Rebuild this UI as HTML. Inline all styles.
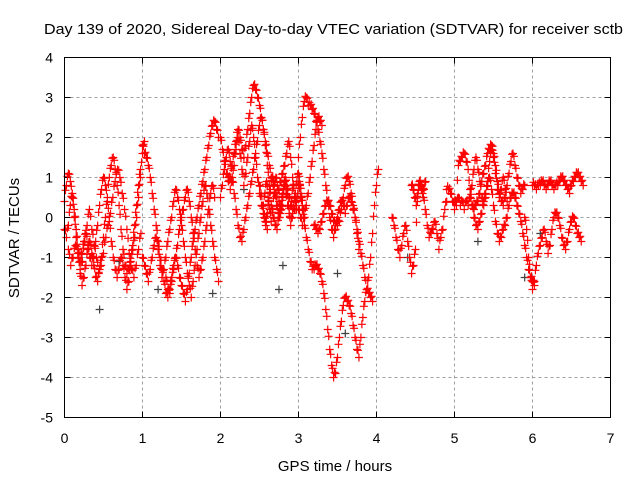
<!DOCTYPE html>
<html><head><meta charset="utf-8"><style>
html,body{margin:0;padding:0;background:#fff}
svg{display:block;font-family:"Liberation Sans",sans-serif}
</style></head><body>
<svg id="chart" width="640" height="480" viewBox="0 0 640 480" xmlns="http://www.w3.org/2000/svg">
<text x="44" y="34" font-size="15" textLength="579" lengthAdjust="spacingAndGlyphs">Day 139 of 2020, Sidereal Day-to-day VTEC variation (SDTVAR) for receiver sctb</text>
<text x="335" y="471" font-size="15" text-anchor="middle">GPS time / hours</text>
<text transform="translate(19,238) rotate(-90)" font-size="15" text-anchor="middle">SDTVAR / TECUs</text>
<g id="grid"></g>
<g id="ticks"></g>
<g id="marks"></g>
<rect x="64.5" y="57.5" width="546" height="360" fill="none" stroke="#000" stroke-width="1"/>
</svg>
<script>
const xTicks = [0,1,2,3,4,5,6,7];
const yTicks = [-5,-4,-3,-2,-1,0,1,2,3,4];
// each track: start hour, step hours, values (TECU)
const trackStarts = [0,0,1.0,1.0,2.0,2.0,2.5,3.0,3.0,3.2,4.2,4.45,4.9,5.2,6.0,5.9,0.05,1.3,2.55,2.1,3.0,5.0];
const trackSteps = [0.025,0.025,0.025,0.025,0.025,0.025,0.02,0.025,0.025,0.025,0.025,0.02,0.025,0.025,0.025,0.025,0.03,0.025,0.02,0.025,0.025,0.025];
const track0 = [0.4,0.8,1.1,0.9,0.5,0,-0.5,-1.0,-1.4,-1.7,-1.5,-1.2,-0.8,-0.6,-0.9,-1.2,-1.5,-1.6,-1.3,-1.0,-0.5,0,0.5,1.0,1.3,1.5,1.2,0.8,0.3,-0.3,-0.8,-1.2,-1.4,-1.3,-1.1,-0.7,-0.2,0.3,0.8,1.2];
const track1 = [-0.3,-0.5,-0.2,0.3,0.6,0.2,-0.3,-0.8,-1.1,-0.9,-0.6,-0.4,-0.7,-1.0,-1.2,-1.0,-0.6,-0.2,0.3,0.7,1.0,0.8,0.4,-0.1,-0.6,-1.0,-1.3,-1.5,-1.3,-1.0,-1.2,-1.5,-1.8,-1.6,-1.2,-0.8,-0.5,0,0.5,1.0,1.6,1.9];
const track2 = [1.8,1.6,1.5,1.3,1.0,0.6,0.2,-0.2,-0.6,-1.0,-1.3,-1.6,-1.9,-2.0,-1.8,-1.5,-1.2,-1.0,-1.2,-1.5,-1.7,-1.9,-2.1,-1.8,-1.4,-1.0,-0.6,-0.3,0,0.3,0.6,0.9,1.2,1.5,1.8,2.1,2.3,2.4,2.2,2.0];
const track3 = [-1.0,-1.2,-1.4,-1.6,-1.3,-1.0,-0.7,-0.5,-0.8,-1.2,-1.5,-1.3,-1.0,-0.6,-0.3,0,0.4,0.7,0.5,0.2,-0.2,-0.6,-1.0,-1.4,-1.7,-2.0,-1.6,-1.2,-0.8,-0.4,0,0.4,0.8,0.6,0.2,-0.2,-0.6,-1.0,-1.3,-1.6];
const track4 = [2.0,1.7,1.4,1.1,0.9,1.0,1.3,1.6,1.9,2.2,2.0,1.7,1.5,1.8,2.2,2.6,3.0,3.3,3.2,3.0,2.8,2.5,2.2,1.9,1.6,1.3,1.0,0.8,0.6,0.5,0.7,0.9,1.1,1.3,1.6,1.9,1.5,1.0,0.5,0.2];
const track5 = [0.5,0.8,1.2,1.5,1.7,1.4,1.0,0.6,0.2,-0.2,-0.5,-0.6,-0.3,0,0.3,0.6,0.9,1.2,1.6,1.9,2.3,2.5,2.2,1.8,1.3,0.8,0.3,0,-0.2,-0.3,0,0.3,0.6,0.9,0.8,0.5,0.3,0.1,0.2,0.4];
const track6 = [0.8,0.6,0.3,0,-0.2,0.1,0.4,0.7,1.0,0.9,0.6,0.3,0.1,0,0.2,0.5,0.8,0.6,0.3,0.1,-0.2,0,0.3,0.6,0.9,1.1,0.8,0.5,0.2,0];
const track7 = [1.5,2.0,2.5,2.9,3.0,2.8,2.8,2.7,2.6,2.4,2.2,1.9,1.6,1.2,0.8,0.4,0,-0.3,-0.5,-0.3,0,0.2,0.4,0.3,0.1,0.3,0.5,0.4,0.2,0,-0.3,-0.6,-0.9,-1.2,-1.5,-1.8,-1.5,-1.0,-0.4,0.3,0.8,1.2];
const track8 = [0.8,0.5,0.2,-0.2,-0.5,-0.8,-1.1,-1.3,-1.3,-1.2,-1.3,-1.4,-1.6,-1.9,-2.3,-2.8,-3.3,-3.7,-4.0,-3.9,-3.5,-3.0,-2.6,-2.2,-2.0,-2.1,-2.2,-2.4,-2.7,-3.0,-3.3,-3.5,-3.0,-2.5,-2.1,-1.8,-1.9,-2.0,-2.1];
const track9 = [-0.2,-0.3,-0.4,-0.3,-0.1,0.1,0.3,0.4,0.3,0.1,-0.1,-0.2,-0.2,-0.1,0.2,0.5,0.8,1.0,0.9,0.6,0.3,0,-0.4,-0.8];
const track10 = [0,-0.2,-0.5,-0.8,-1.0,-0.7,-0.4,-0.2,-0.6,-1.0,-1.4,-1.2,-0.8,0.4,0.8,0.7,0.5,0.2,-0.2,-0.5,-0.4,-0.3,-0.1,-0.4,-0.8,-0.5,-0.3,0.2,0.4];
const track11 = [0.8,0.7,0.5,0.3,0.6,0.9,0.8,0.6,0.7,0.9];
const track12 = [0.7,0.7,0.6,0.4,0.2,0.4,1.3,1.4,1.5,1.6,1.4,1.2,0.5,0.3,0.2,0.3,0.4,0.6,0.9,1.1,1.3,1.6,1.7,1.8,1.6,1.3,0.9,0.6,0.4,0.3,0.5,0.8,1.1,1.4,1.6,1.3,1.0,0.8,0.6,0.7,0.8];
const track13 = [0.7,0.3,0,-0.2,-0.3,-0.1,0.1,0.4,0.6,0.8,1.0,0.7,0.3,-0.1,-0.4,-0.6,-0.5,-0.3,-0.2,0,0.3,0.5,0.6,0.5,0.3,0.1,-0.1,-0.4,-0.7,-1.0,-1.3,-1.5,-1.6,-1.7];
const track14 = [0.8,0.8,0.7,0.8,0.8,0.9,0.8,0.7,0.8,0.9,0.8,0.7,0.8,0.8,0.9,1.0,0.9,0.8,0.7,0.6,0.8,0.9,1.0,1.1,1.0,0.9,0.8];
const track15 = [0,-0.3,-1.0,-1.5,-1.8,-1.6,-1.2,-0.9,-0.7,-0.5,-0.3,-0.6,-0.9,-0.7,-0.3,0,0.1,0,-0.2,-0.5,-0.7,-0.8,-0.6,-0.3,-0.1,0,-0.2,-0.4,-0.5,-0.6];
const track16 = [-0.8,-1.2,-1.0,-0.7,-0.9,-1.3,-1.1,-0.6,-0.2,0.2,-0.3,-0.7,-1.0,-1.4,-1.2,-0.9,-0.5,-0.2,0.1,0.5,0.9,1.2,1.0,0.6,0.2,-0.3,-0.9,-1.3,-1.5,-1.2,-0.8,-0.4];
const track17 = [-1.5,-1.8,-1.9,-1.6,-1.3,-1.0,-0.7,-0.3,0,0.2,0.5,0.7,0.4,0,-0.4,-0.8,-1.2,-1.5,-1.3,-1.0,-0.6,-0.2,0.2,0.6,0.8,0.5];
const track18 = [0.3,0.6,0.9,0.5,0.2,-0.1,0.2,0.6,1.0,0.8,0.4,0.1,0.3,0.7,1.0,0.7,0.3,0,0.4,0.8,0.5,0.2,0.6,0.9,0.6,0.3];
const track19 = [1.0,0.7,0.9,1.3,1.7,2.0,1.6,1.2,0.8,1.1,1.5,1.9,2.3,2.0,1.5,1.0,0.6,0.3,0.1,-0.1,-0.3];
const track20 = [0.2,0,-0.2,0,0.3,0.6,1.0,1.4,1.8,2.2,2.5,2.4,2.3];
const track21 = [0.4,0.3,0.5,0.3,0.4,0.2,0.4,0.3,0.5,0.8,1.2,1.5,1.2,0.9,0.5,0.3,0.5,0.9,1.4,1.7,1.5,1.1,0.7,0.5,0.7,1.0,0.7,0.4];
// secondary grey points [hour, value]
const greyHours = [0.45,0.9,1.2,1.9,2.75,2.8,3.5,3.6,4.4,4.6,5.3,5.9,6.1,2.3,0.7];
const greyValues = [-2.3,-0.5,-1.8,-1.9,-1.8,-1.2,-1.4,-2.9,-1.0,0.5,-0.6,-1.5,-0.4,0.7,-1.1];

const tracks=[track0,track1,track2,track3,track4,track5,track6,track7,track8,track9,track10,track11,track12,track13,track14,track15,track16,track17,track18,track19,track20,track21];
const L=64.5,R=610.5,T=57.5,B=417.5;
const xs=h=>L+(h-0)/(7-0)*(R-L);
const ys=v=>B-(v+5)/9*(B-T);
const NS='http://www.w3.org/2000/svg';
function mk(tag,attrs,parent){const e=document.createElementNS(NS,tag);for(const k in attrs)e.setAttribute(k,attrs[k]);parent.appendChild(e);return e;}
const grid=document.getElementById('grid'),ticks=document.getElementById('ticks'),marks=document.getElementById('marks');
xTicks.forEach(t=>{const x=xs(t);
 if(t>0&&t<7){const g=mk('line',{x1:x,x2:x,y1:T,y2:B,stroke:'#a0a0a0','stroke-dasharray':'3,3'},grid);
 
 }
 const tk=mk('path',{d:`M${x},${B}v-6M${x},${T}v6`,stroke:'#000'},ticks);
 
 
 const lb=mk('text',{x:x,y:443,'font-size':14,'text-anchor':'middle'},ticks);lb.textContent=t;
 
 
});
yTicks.forEach(t=>{const y=ys(t);
 if(t>-5&&t<4){const g=mk('line',{x1:L,x2:R,y1:y,y2:y,stroke:'#a0a0a0','stroke-dasharray':'3,3'},grid);
 
 }
 const tk=mk('path',{d:`M${L},${y}h6M${R},${y}h-6`,stroke:'#000'},ticks);
 
 
 const lb=mk('text',{x:53,y:y+5,'font-size':14,'text-anchor':'end'},ticks);lb.textContent=t;
 
 
});
function plus(h,v,color,name){const x=xs(h),y=ys(v);
 const p=mk('path',{d:`M${x-4},${y}h8M${x},${y-4}v8`,stroke:color,'stroke-width':1.2,fill:'none'},marks);
 
 }
greyHours.forEach((h,i)=>plus(h,greyValues[i],'#404040','grey-point'));
tracks.forEach((tr,k)=>{tr.forEach((v,i)=>{const h=trackStarts[k]+i*trackSteps[k];
 plus(h,v,'#ff0000','data-point');
 if(i+1<tr.length){plus(h+trackSteps[k]/2,(v+tr[i+1])/2+0.08,'#ff0000','data-point');}
});});
</script>
</body></html>
